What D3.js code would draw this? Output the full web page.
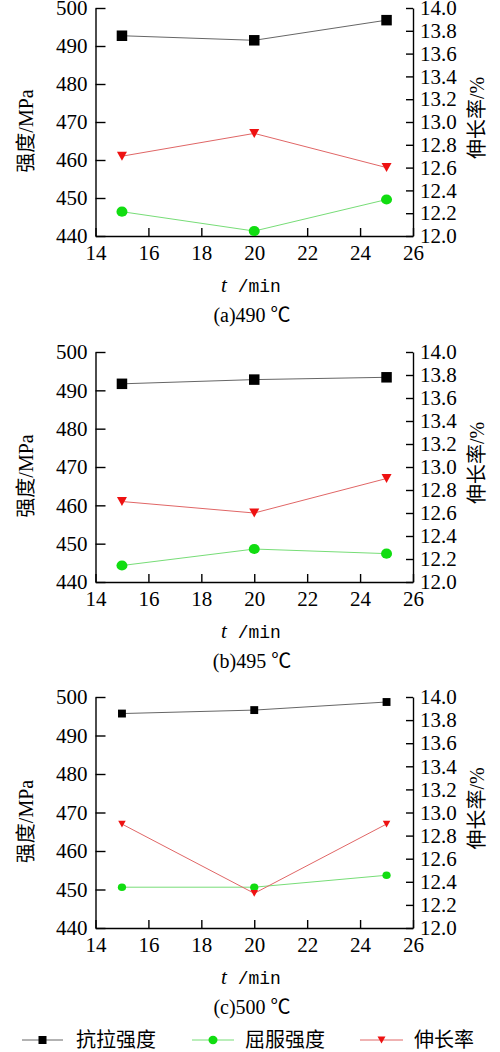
<!DOCTYPE html>
<html>
<head>
<meta charset="utf-8">
<script src="https://cdn.jsdelivr.net/npm/d3@7/dist/d3.min.js"></script>
<style>
  html, body { margin: 0; padding: 0; background: #fff; }
  svg { display: block; }
  .serif { font-family: "Liberation Serif", "Times New Roman", Times, "Nimbus Roman", "DejaVu Serif", "Noto Serif", serif; }
  .cjk { font-family: "Noto Sans CJK SC", "Noto Sans CJK JP", sans-serif; }
  .mono { font-family: "Liberation Mono", "DejaVu Sans Mono", monospace; }
</style>
</head>
<body>
<svg id="chart" width="500" height="1052"></svg>
<script>
// ---- data ----
const times = [15, 20, 25];
const xTicks = [14, 16, 18, 20, 22, 24, 26];
const leftTicks = [440, 450, 460, 470, 480, 490, 500];
const rightTicks = [12.0, 12.2, 12.4, 12.6, 12.8, 13.0, 13.2, 13.4, 13.6, 13.8, 14.0];
const captionLetters = ["(a)", "(b)", "(c)"];
const captionTemps = ["490", "495", "500"];
const seriesNames = ["抗拉强度", "屈服强度", "伸长率"];

const tensileA = [492.7, 491.5, 496.8];
const yieldA   = [446.4, 441.3, 449.6];
const elongA   = [12.70, 12.90, 12.60];

const tensileB = [491.7, 492.8, 493.4];
const yieldB   = [444.3, 448.6, 447.4];
const elongB   = [12.70, 12.60, 12.90];

const tensileC = [495.7, 496.6, 498.7];
const yieldC   = [450.6, 450.6, 453.7];
const elongC   = [12.90, 12.30, 12.90];

const tensileAll = [tensileA, tensileB, tensileC];
const yieldAll = [yieldA, yieldB, yieldC];
const elongAll = [elongA, elongB, elongC];

// ---- layout ----
const svg = d3.select("#chart");
const left = 95.5, right = 413;
const panelTops = [8, 352, 697];
const panelBottoms = [236, 582, 928];
const markerScale = [1, 1, 0.75];

const x = d3.scaleLinear().domain([14, 26]).range([left, right]);

const colors = {
  tensileLine: "#666666", tensileMark: "#000000",
  yieldLine: "#77dd77", yieldMark: "#11dd11",
  elongLine: "#e06666", elongMark: "#ee1111"
};

function drawSquare(g, cx, cy, s, fill) {
  g.append("rect").attr("x", cx - s / 2).attr("y", cy - s / 2)
    .attr("width", s).attr("height", s).attr("fill", fill);
}
function drawCircle(g, cx, cy, r, fill) {
  g.append("ellipse").attr("cx", cx).attr("cy", cy).attr("rx", r).attr("ry", r * 0.92).attr("fill", fill);
}
function drawTri(g, cx, cy, s, fill) {
  const h = s * 0.9;
  g.append("path")
    .attr("d", `M${cx - s / 2},${cy - h / 2}L${cx + s / 2},${cy - h / 2}L${cx},${cy + h / 2}Z`)
    .attr("fill", fill);
}

panelTops.forEach((top, i) => {
  const bottom = panelBottoms[i];
  const yL = d3.scaleLinear().domain([440, 500]).range([bottom, top]);
  const yR = d3.scaleLinear().domain([12, 14]).range([bottom, top]);
  const g = svg.append("g");

  // axes
  const ax = g.append("g").attr("transform", `translate(0,${bottom})`)
    .call(d3.axisBottom(x).tickValues(xTicks).tickFormat(d3.format("d"))
      .tickSizeInner(-8).tickSizeOuter(0).tickPadding(8));
  const ayl = g.append("g").attr("transform", `translate(${left},0)`)
    .call(d3.axisLeft(yL).tickValues(leftTicks).tickFormat(d3.format("d"))
      .tickSizeInner(-10).tickSizeOuter(0).tickPadding(8));
  const ayr = g.append("g").attr("transform", `translate(${right},0)`)
    .call(d3.axisRight(yR).tickValues(rightTicks).tickFormat(d3.format(".1f"))
      .tickSizeInner(-7).tickSizeOuter(0).tickPadding(7));
  [ax, ayl, ayr].forEach(a => {
    a.attr("font-family", null).attr("font-size", null);
    a.selectAll("path.domain").attr("stroke", "#000").attr("stroke-width", 1.4);
    a.selectAll(".tick line").attr("stroke", "#000").attr("stroke-width", 1.4);
    a.selectAll("text").attr("fill", "#000").attr("class", "serif").attr("font-size", 21);
  });
  ax.selectAll("text").attr("dy", "0.75em");

  // axis titles
  const tl = g.append("text")
    .attr("transform", `translate(33,${(top + bottom) / 2 + 9}) rotate(-90)`)
    .attr("text-anchor", "middle").attr("font-size", 20);
  tl.append("tspan").attr("class", "cjk").text("强度");
  tl.append("tspan").attr("class", "serif").text("/MPa");

  const tr = g.append("text")
    .attr("transform", `translate(484,${(top + bottom) / 2 - 4}) rotate(-90)`)
    .attr("text-anchor", "middle").attr("font-size", 20);
  tr.append("tspan").attr("class", "cjk").text("伸长率");
  tr.append("tspan").attr("class", "serif").text("/%");

  const xt = g.append("text")
    .attr("x", 251).attr("y", bottom + 56)
    .attr("text-anchor", "middle").attr("font-size", 21);
  xt.append("tspan").attr("class", "serif").attr("font-style", "italic").text("t");
  xt.append("tspan").attr("class", "mono").attr("font-size", 18).text(" /min");

  const cap = g.append("text")
    .attr("x", 252).attr("y", bottom + 86)
    .attr("text-anchor", "middle").attr("font-size", 20);
  cap.append("tspan").attr("class", "serif").text(captionLetters[i] + captionTemps[i] + " ");
  cap.append("tspan").attr("class", "cjk").text("℃");

  // lines
  const lineL = d3.line().x((d, k) => x(times[k])).y(d => yL(d));
  const lineR = d3.line().x((d, k) => x(times[k])).y(d => yR(d));
  g.append("path").attr("d", lineL(tensileAll[i])).attr("fill", "none")
    .attr("stroke", colors.tensileLine).attr("stroke-width", 1);
  g.append("path").attr("d", lineL(yieldAll[i])).attr("fill", "none")
    .attr("stroke", colors.yieldLine).attr("stroke-width", 1);
  g.append("path").attr("d", lineR(elongAll[i])).attr("fill", "none")
    .attr("stroke", colors.elongLine).attr("stroke-width", 1);

  const ms = markerScale[i];
  tensileAll[i].forEach((v, k) => drawSquare(g, x(times[k]), yL(v), 10.5 * ms, colors.tensileMark));
  yieldAll[i].forEach((v, k) => drawCircle(g, x(times[k]), yL(v), 5.5 * ms, colors.yieldMark));
  elongAll[i].forEach((v, k) => drawTri(g, x(times[k]), yR(v), 10 * ms, colors.elongMark));
});

// legend
const legY = 1040;
const legend = svg.append("g");
const legItems = [
  { x0: 22, x1: 63, line: colors.tensileLine, mark: "sq", tx: 76 },
  { x0: 192, x1: 234, line: colors.yieldLine, mark: "ci", tx: 245 },
  { x0: 360, x1: 403, line: colors.elongLine, mark: "tr", tx: 414 }
];
legItems.forEach((it, i) => {
  legend.append("line").attr("x1", it.x0).attr("x2", it.x1).attr("y1", legY).attr("y2", legY)
    .attr("stroke", it.line).attr("stroke-width", 1);
  const cx = (it.x0 + it.x1) / 2;
  if (it.mark === "sq") drawSquare(legend, cx, legY, 8, colors.tensileMark);
  if (it.mark === "ci") drawCircle(legend, cx, legY, 4.5, colors.yieldMark);
  if (it.mark === "tr") drawTri(legend, cx, legY, 8, colors.elongMark);
  legend.append("text").attr("x", it.tx).attr("y", legY + 7)
    .attr("class", "cjk").attr("font-size", 20).attr("fill", "#000")
    .text(seriesNames[i]);
});
</script>
</body>
</html>
